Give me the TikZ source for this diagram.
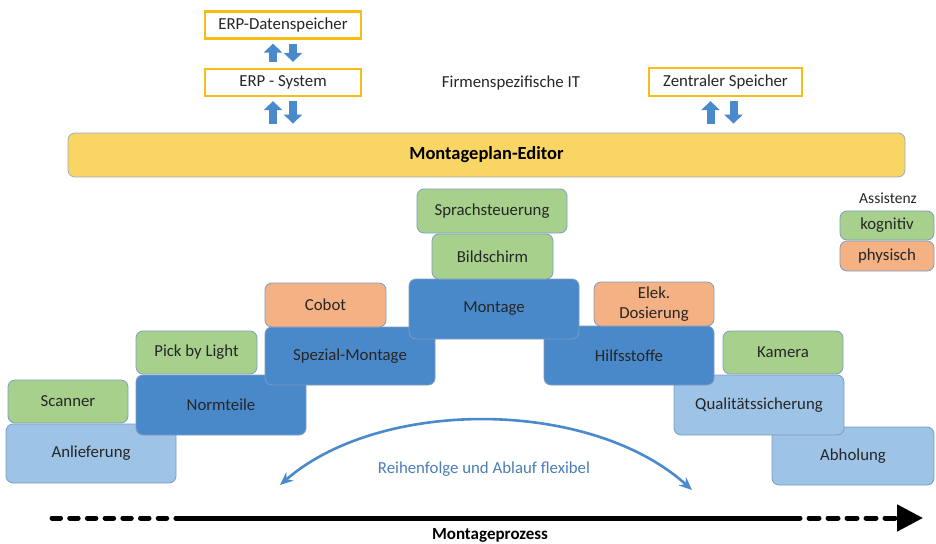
\documentclass[tikz,border=0pt]{standalone}
\usepackage{fontspec}
\setmainfont{Carlito}
\usetikzlibrary{arrows.meta}
\definecolor{StageDark}{HTML}{4A89C9}
\definecolor{StageLight}{HTML}{9DC3E6}
\definecolor{AidGreen}{HTML}{A8D08D}
\definecolor{AidOrange}{HTML}{F4B183}
\definecolor{EditorYellow}{HTML}{F9D563}
\definecolor{ItGold}{HTML}{F9BC15}
\definecolor{Frame}{HTML}{7D9CC0}
\definecolor{FlowBlue}{HTML}{4A89CC}
\definecolor{LabelBlue}{HTML}{4A7DB8}
\definecolor{Ink}{HTML}{262626}

\begin{document}
\begin{tikzpicture}[x=1pt,y=-1pt,
    stepbox/.style={rounded corners=7pt,draw=Frame,line width=.8pt,inner sep=0pt,align=center,
      font=\fontsize{16.8}{20}\selectfont,text=Ink},
    stage/.style={stepbox,minimum width=170pt,minimum height=59pt,fill=StageDark},
    endstage/.style={stage,fill=StageLight},
    aid/.style={stepbox,minimum width=121pt,minimum height=44pt,fill=AidGreen},
    physaid/.style={aid,fill=AidOrange},
    itbox/.style={draw=ItGold,line width=2.2pt,fill=white,minimum width=156pt,minimum height=27pt,
      inner sep=0pt,font=\fontsize{16.8}{17}\selectfont,text=Ink},
    blockarrow/.style={draw=FlowBlue,line width=8pt,-{Triangle[width=18pt,length=9pt]}},
    process/.style={line width=5pt,line cap=round,draw=black},
    flexarc/.style={draw=FlowBlue,line width=2.6pt,{Stealth[length=13pt,width=11pt]}-{Stealth[length=13pt,width=11pt]}}]
  \useasboundingbox (0,0) rectangle (936,543);
  % firm IT
  \node[itbox] (erpdb) at (283,25) {ERP-Datenspeicher};
  \node[itbox] (erpsys) at (283,82.5) {ERP - System};
  \node[itbox,minimum width=153pt,minimum height=28pt] (zsp) at (725.5,82) {Zentraler Speicher};
  \node[font=\fontsize{16.8}{17}\selectfont,text=Ink] (firmit) at (511,83) {Firmenspezifische IT};
  \node[stepbox,fill=EditorYellow,draw=Frame!80,minimum width=837pt,minimum height=44pt,
    font=\fontsize{18.5}{19}\selectfont\bfseries,text=black] (editor) at (486.5,155) {Montageplan-Editor};
  \draw[blockarrow,shorten <=6pt,shorten >=4pt] ([xshift=-10pt]erpsys.north) -- ([xshift=-10pt]erpdb.south);
  \draw[blockarrow,shorten <=4pt,shorten >=6pt] ([xshift=10pt]erpdb.south) -- ([xshift=10pt]erpsys.north);
  \draw[blockarrow,shorten <=9pt,shorten >=4pt] ([xshift=-10pt]editor.north -| erpsys) -- ([xshift=-10pt]erpsys.south);
  \draw[blockarrow,shorten <=4pt,shorten >=9pt] ([xshift=10pt]erpsys.south) -- ([xshift=10pt]editor.north -| erpsys);
  \draw[blockarrow,shorten <=9pt,shorten >=4pt] ([xshift=-15pt]editor.north -| zsp) -- ([xshift=-15pt]zsp.south);
  \draw[blockarrow,shorten <=4pt,shorten >=9pt] ([xshift=8pt]zsp.south) -- ([xshift=8pt]editor.north -| zsp);
  % legend
  \node[font=\fontsize{15.5}{16}\selectfont,text=Ink] (assist) at (888,198) {Assistenz};
  \node[aid,minimum width=94pt,minimum height=29pt] (kog) at (887,225.5) {kognitiv};
  \node[physaid,minimum width=94pt,minimum height=30pt] (phys) at (887,256) {physisch};
  % stages, lowest first
  \node[endstage] (anlief) at (91,453.5) {Anlieferung};
  \node[endstage,minimum width=162pt,minimum height=58pt] (abhol) at (853,456) {Abholung};
  \node[aid,minimum width=120pt,minimum height=43pt] (scanner) at (68,401.5) {Scanner};
  \node[stage,minimum height=60pt] (normteile) at (221,405) {Normteile};
  \node[endstage,minimum height=60pt] (quali) at (759,405) {Qualitätssicherung};
  \node[aid,minimum height=43pt] (pick) at (196.5,352.5) {Pick by Light};
  \node[aid,minimum width=120pt,minimum height=43pt] (kamera) at (783,352.5) {Kamera};
  \node[stage,minimum height=58pt] (spezial) at (350,356) {Spezial-Montage};
  \node[stage] (hilf) at (629,355.5) {Hilfsstoffe};
  \node[physaid] (cobot) at (325.5,305) {Cobot};
  \node[physaid,minimum width=120pt] (elek) at (654,304) {Elek.\\Dosierung};
  \node[stage,minimum height=60pt] (montage) at (494,309) {Montage};
  \node[aid,minimum height=45pt] (bild) at (492.5,256.5) {Bildschirm};
  \node[aid,minimum width=150pt] (sprach) at (492,211) {Sprachsteuerung};
  % flexible order
  \coordinate (flexl) at (280,485);
  \coordinate (flexr) at (692,490);
  \draw[flexarc] (flexl) .. controls (380,398) and (590,398) .. (flexr);
  \node[font=\fontsize{16.8}{17}\selectfont,text=LabelBlue] (flex) at (484,469) {Reihenfolge und Ablauf flexibel};
  % process axis
  \coordinate (proc0) at (52,518);
  \coordinate (proc1) at (182,518);
  \coordinate (proc2) at (790,518);
  \coordinate (proc3) at (923,518);
  \draw[process,dash pattern=on 8.5pt off 9.2pt] (proc0) -- (proc1);
  \draw[process] (proc1) -- (proc2);
  \draw[process,dash pattern=on 10pt off 9pt,-{Triangle[width=26pt,length=26pt]}] (proc2) -- (proc3);
  \node[font=\fontsize{17}{17}\selectfont\bfseries] (procl) at (490,535) {Montageprozess};
\end{tikzpicture}
\end{document}
